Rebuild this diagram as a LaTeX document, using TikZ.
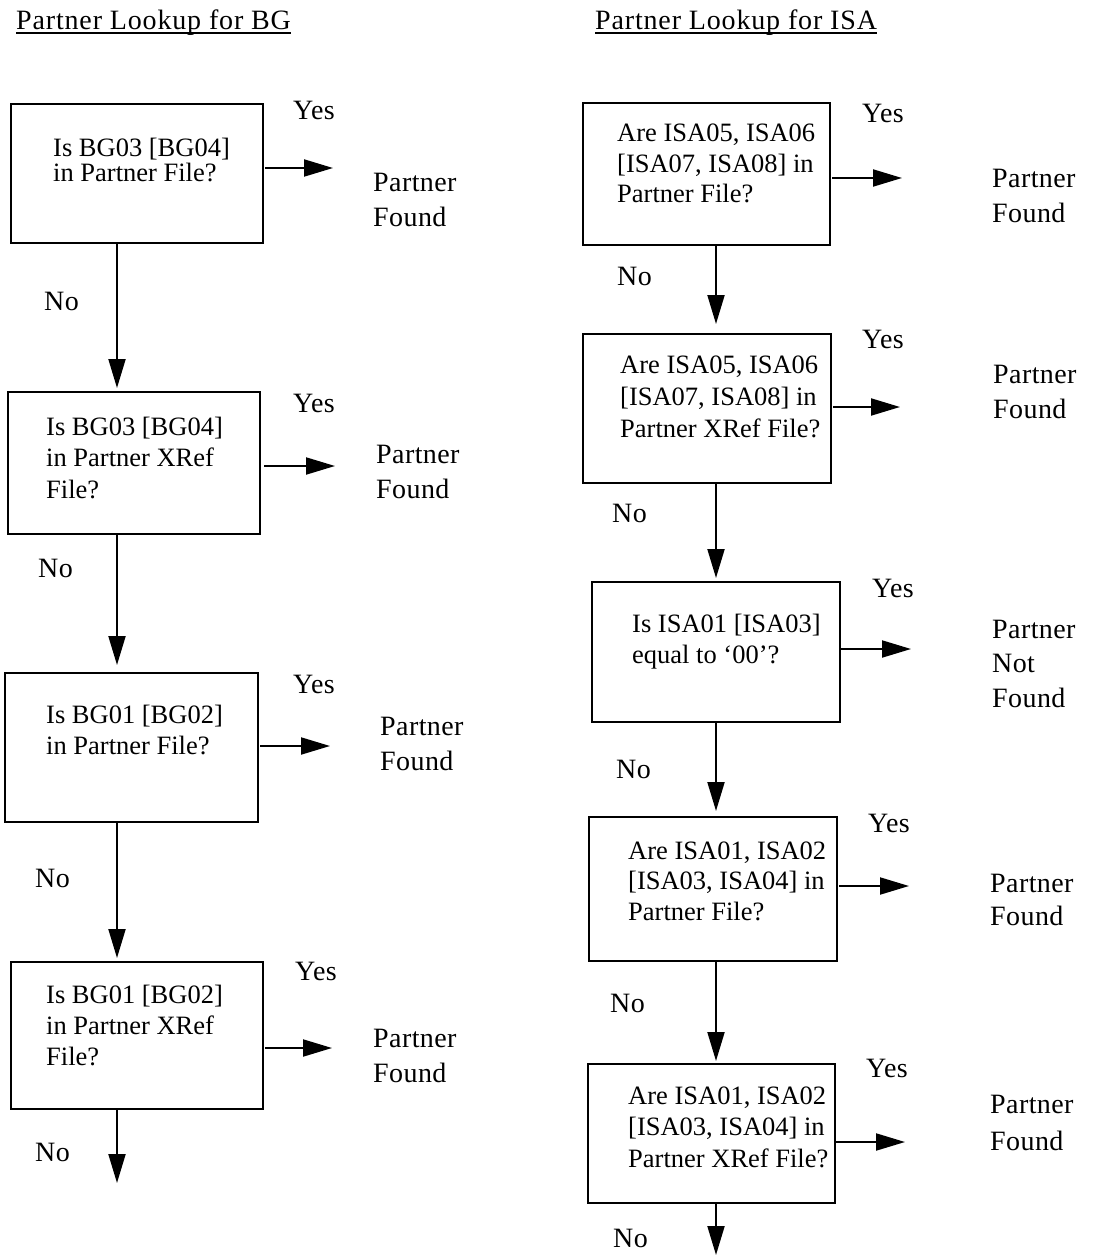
\documentclass[tikz,border=0pt]{standalone}
\usepackage{fontspec}
\setmainfont{Liberation Serif}
\usetikzlibrary{arrows.meta,calc}
\begin{document}
\begin{tikzpicture}[x=1pt,y=-1pt,
  box/.style={draw,line width=2.2pt,rectangle,anchor=north west,inner sep=0pt},
  txt/.style={font=\fontsize{26.5pt}{31pt}\selectfont,align=left,anchor=base west,inner sep=0pt},
  lbl/.style={font=\fontsize{28pt}{35pt}\selectfont\addfontfeature{LetterSpace=1.5},align=left,anchor=base west,inner sep=0pt},
  ttl/.style={font=\fontsize{28pt}{34pt}\selectfont\addfontfeature{LetterSpace=3},anchor=base west,inner sep=0pt},
  arr/.style={line width=2pt,-{Triangle[length=29pt,width=17pt]}},
  uline/.style={line width=1.5pt}]
\useasboundingbox (0,0) rectangle (1092,1257);

% titles
\node[ttl] (tBG) at (16,30) {Partner Lookup for BG};
\draw[uline] ([yshift=-3pt]tBG.base west) -- ([yshift=-3pt]tBG.base east);
\node[ttl] (tISA) at (595,30) {Partner Lookup for ISA};
\draw[uline] ([yshift=-3pt]tISA.base west) -- ([yshift=-3pt]tISA.base east);

% left boxes
\node[box,minimum width=252pt,minimum height=139pt] (L1) at (10,103) {};
\node[box,minimum width=252pt,minimum height=142pt] (L2) at (7,391) {};
\node[box,minimum width=253pt,minimum height=149pt] (L3) at (4,672) {};
\node[box,minimum width=252pt,minimum height=147pt] (L4) at (10,961) {};

% box texts (anchor = baseline of the last line)
\node[txt,font=\fontsize{26.5pt}{25pt}\selectfont] (L1t) at (53,182) {Is BG03 [BG04]\\in Partner File?};
\node[txt,font=\fontsize{26.5pt}{31.5pt}\selectfont] (L2t) at (46,498) {Is BG03 [BG04]\\in Partner XRef\\File?};
\node[txt] (L3t) at (46,754) {Is BG01 [BG02]\\in Partner File?};
\node[txt] (L4t) at (46,1065) {Is BG01 [BG02]\\in Partner XRef\\File?};

% right boxes
\node[box,minimum width=247pt,minimum height=142pt] (R1) at (582,102) {};
\node[box,minimum width=248pt,minimum height=149pt] (R2) at (582,333) {};
\node[box,minimum width=248pt,minimum height=140pt] (R3) at (591,581) {};
\node[box,minimum width=248pt,minimum height=144pt] (R4) at (588,816) {};
\node[box,minimum width=247pt,minimum height=139pt] (R5) at (587,1063) {};

\node[txt,font=\fontsize{26.5pt}{30.5pt}\selectfont] (R1t) at (617,203) {Are ISA05, ISA06\\{}[ISA07, ISA08] in\\Partner File?};
\node[txt,font=\fontsize{26.5pt}{32pt}\selectfont] (R2t) at (620,437) {Are ISA05, ISA06\\{}[ISA07, ISA08] in\\Partner XRef File?};
\node[txt] (R3t) at (632,663) {Is ISA01 [ISA03]\\equal to ‘00’?};
\node[txt,font=\fontsize{26.5pt}{30.5pt}\selectfont] (R4t) at (628,920) {Are ISA01, ISA02\\{}[ISA03, ISA04] in\\Partner File?};
\node[txt,font=\fontsize{26.5pt}{31.5pt}\selectfont] (R5t) at (628,1167) {Are ISA01, ISA02\\{}[ISA03, ISA04] in\\Partner XRef File?};

% column axes
\coordinate (cL) at (117,0);
\coordinate (cR) at (716,0);

% vertical "No" connectors
\draw[arr,shorten >=3pt] (L1.south -| cL) -- (L2.north -| cL);
\draw[arr,shorten >=7pt] (L2.south -| cL) -- (L3.north -| cL);
\draw[arr,shorten >=3pt] (L3.south -| cL) -- (L4.north -| cL);
\coordinate (Lend) at (117,1183);
\draw[arr] (L4.south -| cL) -- (Lend);

\draw[arr,shorten >=9pt] (R1.south -| cR) -- (R2.north -| cR);
\draw[arr,shorten >=3pt] (R2.south -| cR) -- (R3.north -| cR);
\draw[arr,shorten >=5pt] (R3.south -| cR) -- (R4.north -| cR);
\draw[arr,shorten >=2pt] (R4.south -| cR) -- (R5.north -| cR);
\coordinate (Rend) at (716,1255);
\draw[arr] (R5.south -| cR) -- (Rend);

% "No" labels
\node[lbl] (nL1) at (44,310) {No};
\node[lbl] (nL2) at (38,577) {No};
\node[lbl] (nL3) at (35,887) {No};
\node[lbl] (nL4) at (35,1161) {No};
\node[lbl] (nR1) at (617,285) {No};
\node[lbl] (nR2) at (612,522) {No};
\node[lbl] (nR3) at (616,778) {No};
\node[lbl] (nR4) at (610,1012) {No};
\node[lbl] (nR5) at (613,1247) {No};

% "Yes" arrows
\coordinate (yL1) at (333,168);
\coordinate (yL2) at (335,466);
\coordinate (yL3) at (330,746);
\coordinate (yL4) at (332,1048);
\coordinate (yR1) at (902,178);
\coordinate (yR2) at (900,407);
\coordinate (yR3) at (911,649);
\coordinate (yR4) at (909,886);
\coordinate (yR5) at (905,1142);
\draw[arr,shorten <=1pt] (L1.east |- yL1) -- (yL1);
\draw[arr,shorten <=3pt] (L2.east |- yL2) -- (yL2);
\draw[arr,shorten <=1pt] (L3.east |- yL3) -- (yL3);
\draw[arr,shorten <=1pt] (L4.east |- yL4) -- (yL4);
\draw[arr,shorten <=1pt] (R1.east |- yR1) -- (yR1);
\draw[arr,shorten <=1pt] (R2.east |- yR2) -- (yR2);
\draw[arr,shorten <=0pt] (R3.east |- yR3) -- (yR3);
\draw[arr,shorten <=1pt] (R4.east |- yR4) -- (yR4);
\draw[arr,shorten <=0pt] (R5.east |- yR5) -- (yR5);

% "Yes" labels
\node[lbl] (sL1) at (293,120) {Yes};
\node[lbl] (sL2) at (293,412) {Yes};
\node[lbl] (sL3) at (293,693) {Yes};
\node[lbl] (sL4) at (295,980) {Yes};
\node[lbl] (sR1) at (862,123) {Yes};
\node[lbl] (sR2) at (862,348) {Yes};
\node[lbl] (sR3) at (872,597) {Yes};
\node[lbl] (sR4) at (868,832) {Yes};
\node[lbl] (sR5) at (866,1077) {Yes};

% outcomes (anchor = baseline of the last line)
\node[lbl] (oL1) at (373,227) {Partner\\Found};
\node[lbl] (oL2) at (376,498) {Partner\\Found};
\node[lbl] (oL3) at (380,770) {Partner\\Found};
\node[lbl] (oL4) at (373,1082) {Partner\\Found};
\node[lbl] (oR1) at (992,223) {Partner\\Found};
\node[lbl] (oR2) at (993,418) {Partner\\Found};
\node[lbl,font=\fontsize{28pt}{34.5pt}\selectfont\addfontfeature{LetterSpace=1.5}] (oR3) at (992,707) {Partner\\Not\\Found};
\node[lbl,font=\fontsize{28pt}{33pt}\selectfont\addfontfeature{LetterSpace=1.5}] (oR4) at (990,925) {Partner\\Found};
\node[lbl,font=\fontsize{28pt}{37pt}\selectfont\addfontfeature{LetterSpace=1.5}] (oR5) at (990,1150) {Partner\\Found};
\end{tikzpicture}
\end{document}
